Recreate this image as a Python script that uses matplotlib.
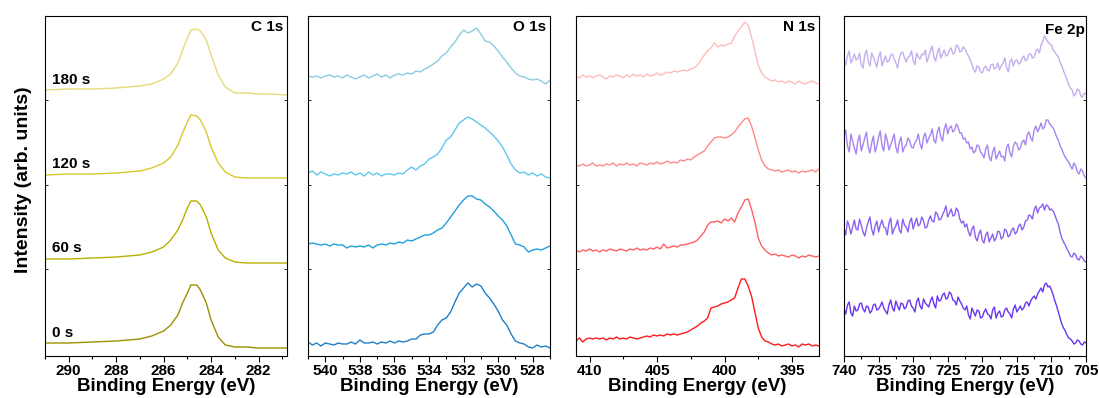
import numpy as np
import matplotlib
matplotlib.use('Agg')
import matplotlib.pyplot as plt
from matplotlib.ticker import MultipleLocator

plt.rcParams['font.family'] = ['Liberation Sans', 'DejaVu Sans']
plt.rcParams['font.weight'] = 'bold'

times = ['0 s', '60 s', '120 s', '180 s']

# C 1s (stacked, arb. units)
c1s_ev = [291.0, 290.0, 289.0, 288.0, 287.0, 286.5, 286.0, 285.7, 285.4, 285.2, 285.0, 284.85,
          284.6, 284.45, 284.2, 284.0, 283.7, 283.4, 283.0, 282.5, 282.0, 281.5, 280.8]
c1s_0 = [13, 13, 14, 15, 17, 20, 25, 31, 41, 53, 63, 71, 71, 66, 53, 36, 19, 11, 9, 9, 8, 8, 8]
c1s_60 = [97, 97, 98, 99, 101, 104, 109, 116, 126, 136, 148, 155, 155, 151, 139, 123, 106, 98, 94, 93, 93, 93, 93]
c1s_120 = [181, 182, 182, 183, 185, 188, 193, 199, 211, 223, 234, 241, 240, 236, 224, 209, 193, 184, 179, 178, 178, 178, 178]
c1s_180 = [266, 267, 267, 268, 270, 272, 277, 282, 293, 306, 318, 326, 327, 325, 316, 301, 281, 269, 263, 263, 262, 262, 261]

# O 1s, 541 -> 527 eV in 0.25 eV steps
o1s_ev = np.linspace(541, 527, 57)
o1s_0 = [14, 11, 13, 10, 13, 12, 11, 13, 12, 12, 14, 12, 16, 13, 13, 14, 12, 14, 13, 15,
         13, 15, 14, 15, 17, 17, 21, 22, 22, 24, 31, 36, 38, 44, 54, 63, 68, 73, 69, 72,
         70, 63, 58, 52, 45, 36, 31, 22, 15, 13, 12, 9, 8, 11, 9, 10, 8]
o1s_60 = [112, 113, 112, 111, 112, 110, 112, 111, 111, 108, 110, 109, 110, 109, 111, 108, 111, 112, 111, 113,
          112, 114, 113, 116, 115, 117, 119, 121, 121, 123, 126, 128, 133, 139, 145, 151, 156, 160, 160, 157,
          156, 152, 149, 145, 140, 136, 130, 121, 112, 111, 109, 104, 106, 107, 106, 108, 110]
o1s_120 = [183, 185, 181, 184, 182, 180, 182, 181, 183, 182, 184, 181, 183, 180, 184, 181, 183, 180, 182, 182,
           181, 183, 182, 186, 189, 186, 190, 192, 197, 199, 202, 208, 216, 219, 226, 233, 236, 239, 237, 234,
           231, 228, 224, 220, 215, 209, 201, 192, 186, 183, 184, 181, 183, 180, 182, 179, 178]
o1s_180 = [280, 279, 280, 278, 280, 281, 279, 280, 278, 281, 279, 277, 279, 281, 278, 280, 282, 279, 281, 278,
           281, 282, 281, 283, 282, 285, 284, 287, 289, 292, 295, 300, 303, 309, 314, 321, 326, 323, 325, 328,
           322, 315, 314, 310, 305, 299, 294, 288, 283, 280, 279, 277, 276, 277, 275, 272, 276]

# N 1s, 411 -> 393 eV in 0.25 eV steps
n1s_ev = np.linspace(411, 393, 73)
n1s_0 = [15, 18, 14, 17, 18, 17, 18, 17, 18, 16, 18, 17, 19, 17, 18, 17, 19, 18, 17, 18,
         19, 20, 19, 21, 20, 21, 20, 22, 21, 22, 21, 22, 23, 24, 26, 28, 30, 33, 35, 38,
         48, 49, 50, 52, 53, 54, 56, 58, 68, 77, 77, 70, 60, 44, 28, 19, 15, 14, 12, 11,
         12, 10, 11, 12, 10, 11, 9, 12, 11, 12, 10, 11, 10]
n1s_60 = [106, 104, 106, 105, 107, 105, 106, 104, 106, 105, 107, 106, 105, 107, 106, 105, 107, 106, 108, 106,
          107, 106, 108, 107, 109, 107, 112, 108, 109, 110, 109, 111, 111, 112, 113, 114, 116, 120, 124, 131,
          134, 134, 135, 133, 137, 135, 138, 134, 143, 149, 156, 157, 147, 134, 118, 110, 106, 103, 101, 102,
          100, 101, 100, 99, 101, 100, 98, 100, 99, 101, 100, 99, 100]
n1s_120 = [191, 190, 192, 190, 191, 193, 190, 191, 190, 192, 191, 193, 190, 192, 191, 193, 191, 192, 190, 193,
           192, 191, 193, 192, 194, 192, 193, 195, 193, 194, 193, 196, 195, 197, 196, 199, 201, 203, 205, 210,
           214, 218, 219, 219, 218, 219, 221, 224, 229, 233, 237, 238, 230, 219, 206, 196, 190, 187, 186, 185,
           186, 184, 185, 186, 184, 185, 183, 185, 184, 185, 186, 184, 187]
n1s_180 = [280, 278, 281, 279, 280, 278, 280, 281, 279, 277, 280, 279, 281, 280, 278, 281, 279, 282, 280, 281,
           279, 282, 280, 281, 283, 281, 282, 284, 283, 285, 284, 285, 286, 285, 287, 288, 291, 296, 301, 305,
           308, 313, 309, 311, 310, 312, 313, 320, 325, 329, 334, 331, 319, 305, 291, 283, 279, 277, 275, 276,
           274, 275, 273, 275, 274, 272, 275, 273, 272, 274, 275, 273, 272]

# Fe 2p, 740 -> 705 eV in 0.25 eV steps
fe2p_ev = np.linspace(740, 705, 141)
fe2p_0 = [47, 42, 51, 54, 43, 40, 50, 45, 46, 52, 53, 47, 44, 50, 49, 43, 45, 51, 52, 46,
          47, 50, 54, 48, 45, 42, 51, 56, 48, 45, 55, 50, 46, 53, 52, 47, 49, 55, 56, 50,
          48, 44, 54, 58, 50, 47, 57, 53, 51, 49, 55, 59, 52, 48, 60, 55, 56, 61, 63, 57,
          58, 64, 62, 56, 55, 51, 59, 55, 52, 48, 46, 50, 41, 37, 48, 44, 40, 46, 45, 38,
          39, 44, 47, 42, 41, 37, 46, 49, 38, 43, 45, 39, 40, 46, 48, 44, 42, 38, 47, 51,
          44, 47, 50, 46, 48, 53, 54, 50, 55, 58, 60, 57, 62, 65, 68, 64, 71, 73, 69, 70,
          66, 61, 55, 50, 44, 38, 32, 28, 25, 21, 18, 17, 15, 12, 13, 16, 15, 12, 11, 14, 13]
fe2p_60 = [128, 121, 135, 130, 122, 129, 136, 127, 126, 137, 131, 124, 120, 128, 134, 139, 127, 121, 130, 135,
           124, 131, 136, 129, 128, 121, 133, 138, 122, 127, 130, 136, 126, 123, 137, 131, 129, 124, 134, 138,
           127, 133, 138, 130, 132, 139, 135, 128, 129, 136, 140, 135, 134, 144, 142, 136, 137, 141, 145, 150,
           139, 143, 147, 140, 141, 148, 145, 137, 133, 135, 129, 132, 124, 120, 127, 130, 119, 115, 122, 126,
           116, 113, 121, 124, 114, 118, 122, 115, 118, 125, 124, 117, 119, 127, 125, 119, 121, 126, 128, 122,
           124, 130, 132, 126, 129, 135, 136, 141, 140, 137, 146, 150, 143, 148, 149, 152, 146, 151, 150, 146,
           147, 145, 141, 136, 132, 124, 118, 114, 111, 107, 104, 100, 99, 103, 101, 97, 96, 100, 98, 95, 94]
fe2p_120 = [220, 226, 210, 204, 222, 215, 208, 202, 215, 221, 205, 211, 218, 224, 209, 203, 213, 220, 204, 210,
            219, 225, 210, 205, 222, 216, 206, 211, 216, 222, 209, 203, 214, 219, 204, 209, 211, 218, 215, 209,
            208, 213, 216, 222, 212, 207, 219, 223, 213, 218, 221, 227, 216, 213, 224, 229, 219, 215, 227, 232,
            222, 228, 230, 224, 226, 232, 229, 223, 223, 217, 218, 213, 214, 207, 209, 203, 205, 211, 210, 204,
            202, 198, 207, 211, 199, 195, 204, 209, 197, 201, 205, 199, 200, 195, 208, 212, 203, 199, 210, 214,
            212, 206, 208, 214, 216, 211, 221, 224, 218, 215, 226, 230, 224, 228, 233, 227, 229, 236, 236, 232,
            230, 228, 224, 219, 216, 210, 207, 202, 199, 196, 194, 190, 187, 193, 190, 184, 182, 187, 185, 180, 178]
fe2p_180 = [296, 291, 300, 305, 293, 297, 302, 296, 297, 303, 291, 288, 301, 306, 295, 290, 303, 299, 294, 289,
            299, 304, 290, 295, 300, 294, 295, 301, 302, 297, 293, 288, 298, 303, 304, 298, 294, 299, 300, 305,
            296, 291, 303, 299, 297, 302, 301, 306, 294, 299, 305, 310, 299, 295, 303, 308, 298, 302, 306, 300,
            301, 306, 308, 302, 303, 311, 310, 304, 305, 309, 307, 303, 300, 296, 292, 286, 284, 290, 289, 284,
            283, 288, 290, 286, 285, 291, 292, 287, 288, 293, 286, 290, 293, 298, 289, 284, 294, 297, 290, 295,
            296, 292, 293, 298, 300, 295, 297, 302, 302, 298, 299, 305, 307, 303, 311, 315, 320, 317, 314, 312,
            311, 306, 304, 301, 299, 294, 290, 285, 281, 276, 271, 268, 266, 260, 262, 267, 266, 260, 259, 263, 262]

panels = [
    ('C 1s', c1s_ev, [c1s_0, c1s_60, c1s_120, c1s_180],
     ['#9a9000', '#b8b000', '#d6c92a', '#e6db78'], (291, 280.8), 2, 1, 0.985, 0.968),
    ('O 1s', o1s_ev, [o1s_0, o1s_60, o1s_120, o1s_180],
     ['#1f80c8', '#1fa0dc', '#5ec8f0', '#8ccbe0'], (541, 527), 2, 1, 0.986, 0.968),
    ('N 1s', n1s_ev, [n1s_0, n1s_60, n1s_120, n1s_180],
     ['#ff1a1a', '#ff6060', '#ff8a8a', '#ffbcbc'], (411, 393), 5, 2.5, 0.984, 0.968),
    ('Fe 2p', fe2p_ev, [fe2p_0, fe2p_60, fe2p_120, fe2p_180],
     ['#6a35f2', '#8a60f0', '#a784f2', '#c4aef0'], (740, 705), 5, 2.5, 0.996, 0.960),
]

lefts = [45, 308, 576, 844]
widths = [242, 242, 243, 242]
W, H = 1099, 398

fig = plt.figure(figsize=(W / 100, H / 100), dpi=100)

for k, (name, ev, curves, colors, xlim, major, minor, tx, ty) in enumerate(panels):
    ax = fig.add_axes([lefts[k] / W, 42 / H, widths[k] / W, 340 / H])
    for y, c in zip(curves, colors):
        ax.plot(ev, y, color=c, lw=1.0)
    ax.set_xlim(*xlim)
    ax.set_ylim(0, 340)
    ax.xaxis.set_major_locator(MultipleLocator(major))
    ax.xaxis.set_minor_locator(MultipleLocator(minor))
    ax.set_yticks([87, 171, 256])
    ax.set_yticklabels([])
    ax.tick_params(axis='y', which='major', direction='in', length=2, width=0.6, left=True, right=True)
    ax.tick_params(axis='x', which='major', direction='out', length=4, width=0.8, labelsize=11, pad=1.5)
    ax.tick_params(axis='x', which='minor', direction='out', length=2.5, width=0.8)
    for lab in ax.get_xticklabels():
        lab.set_fontweight('bold')
    ax.set_xlabel('Binding Energy (eV)', fontsize=13.5, fontweight='bold', labelpad=0)
    ax.text(tx, ty, name, transform=ax.transAxes, ha='right', va='center',
            fontsize=11, fontweight='bold')
    if k == 0:
        for lbl, yy in zip(times, [23, 108, 192, 276]):
            ax.text(290.7, yy, lbl, ha='left', va='center', fontsize=11, fontweight='bold')

fig.text(0.021, 0.548, 'Intensity (arb. units)', rotation=90, ha='center', va='center',
         fontsize=14, fontweight='bold')

fig.savefig('out.png', dpi=100)
